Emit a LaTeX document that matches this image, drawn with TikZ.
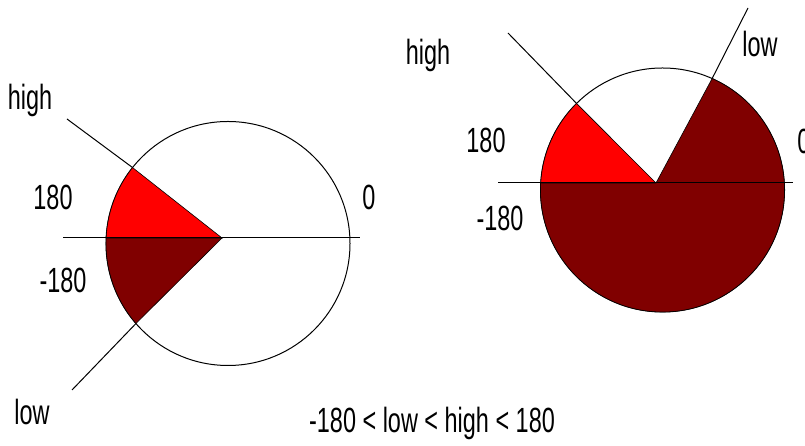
\documentclass[tikz,border=0pt]{standalone}
\usepackage{fontspec}
\setmainfont{Liberation Sans}[FakeStretch=0.67]
\usetikzlibrary{calc}
\definecolor{hired}{HTML}{FF0000}
\definecolor{lored}{HTML}{800000}
\tikzset{
  ring/.style={draw=black, line width=1pt},
  axisline/.style={draw=black, line width=1pt},
  wedgehi/.style={fill=hired, draw=black, line width=0.6pt},
  wedgelo/.style={fill=lored, draw=black, line width=0.6pt},
  lbl/.style={font=\fontsize{35}{40}\selectfont, inner sep=0pt},
}
\begin{document}
\begin{tikzpicture}[x=1pt, y=1pt]
  \useasboundingbox (0,0) rectangle (805,446);
  % left dial: narrow band round 180
  \coordinate (c1) at (228,202.5);
  \coordinate (v1) at (222,208);
  \coordinate (h1) at ($(c1)+(141.5:122)$);
  \coordinate (m1) at ($(c1)+(177.4:122)$);
  \coordinate (l1) at ($(c1)+(221:122)$);
  \coordinate (h1o) at (67,327);
  \coordinate (l1o) at (72,56);
  \coordinate (a1w) at (63,208);
  \coordinate (a1e) at (360,208);
  \draw[ring] (c1) circle[radius=122];
  \filldraw[wedgehi] (v1) -- (h1) arc[start angle=141.5, end angle=177.4, radius=122] -- cycle;
  \filldraw[wedgelo] (v1) -- (m1) arc[start angle=177.4, end angle=221, radius=122] -- cycle;
  \draw[axisline] (a1w) -- (a1e);
  \draw[axisline] (h1) -- (h1o);
  \draw[axisline] (l1) -- (l1o);
  \node[lbl] (hi1) at (30,346) {high};
  \node[lbl] (p1) at (53,249) {180};
  \node[lbl] (n1) at (63,166) {-180};
  \node[lbl] (z1) at (369,249) {0};
  \node[lbl] (lo1) at (32,34) {low};
  % right dial: wide band past 0
  \coordinate (c2) at (662.5,256);
  \coordinate (v2) at (656,263);
  \coordinate (h2) at ($(c2)+(134.8:122)$);
  \coordinate (m2) at ($(c2)+(176.7:122)$);
  \coordinate (l2) at ($(c2)+(66:122)$);
  \coordinate (h2o) at (508,413);
  \coordinate (l2o) at (748,438);
  \coordinate (a2w) at (498,263);
  \coordinate (a2e) at (793,263);
  \draw[ring] (c2) circle[radius=122];
  \filldraw[wedgehi] (v2) -- (h2) arc[start angle=134.8, end angle=176.7, radius=122] -- cycle;
  \filldraw[wedgelo] (v2) -- (m2) arc[start angle=176.7, end angle=426, radius=122] -- cycle;
  \draw[axisline] (a2w) -- (a2e);
  \draw[axisline] (h2) -- (h2o);
  \draw[axisline] (l2) -- (l2o);
  \node[lbl] (hi2) at (428,391) {high};
  \node[lbl] (p2) at (486,306) {180};
  \node[lbl] (n2) at (500,228) {-180};
  \node[lbl] (z2) at (804,305) {0};
  \node[lbl] (lo2) at (760,402) {low};
  % range rule
  \node[lbl] (rng) at (432,23) {-180 < low < high < 180};
\end{tikzpicture}
\end{document}
